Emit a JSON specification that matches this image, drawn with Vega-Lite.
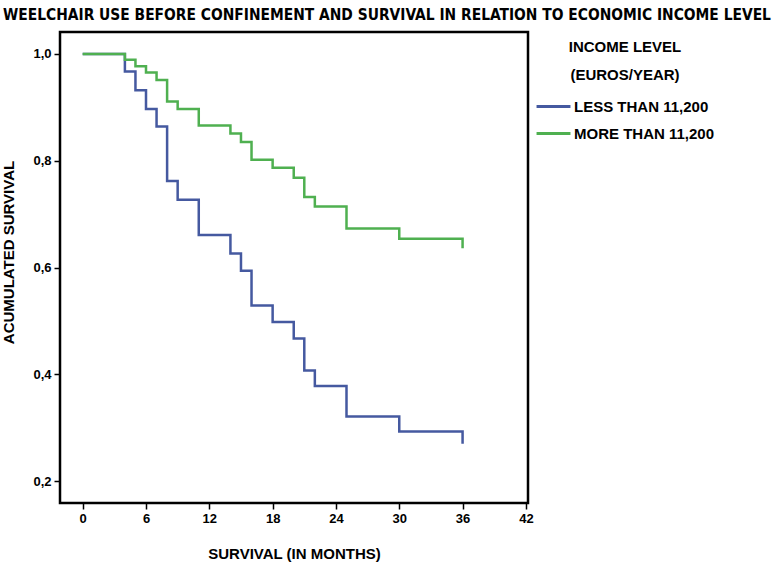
{
  "$schema": "https://vega.github.io/schema/vega-lite/v6.json",
  "autosize": "none",
  "padding": {"left": 60, "top": 32, "right": 246, "bottom": 59},
  "width": 468,
  "height": 471,
  "title": {
    "text": "WEELCHAIR USE BEFORE CONFINEMENT AND SURVIVAL IN RELATION TO ECONOMIC INCOME LEVEL",
    "font": "Liberation Sans Narrow, DejaVu Sans Condensed, sans-serif",
    "fontSize": 15.4,
    "fontWeight": "bold",
    "color": "black",
    "anchor": "start",
    "frame": "group",
    "dx": -57,
    "offset": 9
  },
  "data": {
    "values": [
      {"group": "LESS THAN 11,200", "month": 0, "survival": 1.0},
      {"group": "LESS THAN 11,200", "month": 4, "survival": 0.967},
      {"group": "LESS THAN 11,200", "month": 5, "survival": 0.932},
      {"group": "LESS THAN 11,200", "month": 6, "survival": 0.897},
      {"group": "LESS THAN 11,200", "month": 7, "survival": 0.864},
      {"group": "LESS THAN 11,200", "month": 8, "survival": 0.762},
      {"group": "LESS THAN 11,200", "month": 9, "survival": 0.727},
      {"group": "LESS THAN 11,200", "month": 11, "survival": 0.661},
      {"group": "LESS THAN 11,200", "month": 14, "survival": 0.626},
      {"group": "LESS THAN 11,200", "month": 15, "survival": 0.594},
      {"group": "LESS THAN 11,200", "month": 16, "survival": 0.529},
      {"group": "LESS THAN 11,200", "month": 18, "survival": 0.498},
      {"group": "LESS THAN 11,200", "month": 20, "survival": 0.467},
      {"group": "LESS THAN 11,200", "month": 21, "survival": 0.407},
      {"group": "LESS THAN 11,200", "month": 22, "survival": 0.378},
      {"group": "LESS THAN 11,200", "month": 25, "survival": 0.321},
      {"group": "LESS THAN 11,200", "month": 30, "survival": 0.293},
      {"group": "LESS THAN 11,200", "month": 36, "survival": 0.27},
      {"group": "MORE THAN 11,200", "month": 0, "survival": 1.0},
      {"group": "MORE THAN 11,200", "month": 4, "survival": 0.989},
      {"group": "MORE THAN 11,200", "month": 5, "survival": 0.977},
      {"group": "MORE THAN 11,200", "month": 6, "survival": 0.965},
      {"group": "MORE THAN 11,200", "month": 7, "survival": 0.951},
      {"group": "MORE THAN 11,200", "month": 8, "survival": 0.911},
      {"group": "MORE THAN 11,200", "month": 9, "survival": 0.897},
      {"group": "MORE THAN 11,200", "month": 11, "survival": 0.866},
      {"group": "MORE THAN 11,200", "month": 14, "survival": 0.851},
      {"group": "MORE THAN 11,200", "month": 15, "survival": 0.835},
      {"group": "MORE THAN 11,200", "month": 16, "survival": 0.802},
      {"group": "MORE THAN 11,200", "month": 18, "survival": 0.787},
      {"group": "MORE THAN 11,200", "month": 20, "survival": 0.768},
      {"group": "MORE THAN 11,200", "month": 21, "survival": 0.732},
      {"group": "MORE THAN 11,200", "month": 22, "survival": 0.714},
      {"group": "MORE THAN 11,200", "month": 25, "survival": 0.673},
      {"group": "MORE THAN 11,200", "month": 30, "survival": 0.654},
      {"group": "MORE THAN 11,200", "month": 36, "survival": 0.636}
    ]
  },
  "mark": {"type": "line", "interpolate": "step-after", "strokeWidth": 2.5},
  "encoding": {
    "x": {
      "field": "month",
      "type": "quantitative",
      "scale": {"domain": [-2.15, 42.2], "nice": false, "zero": false},
      "axis": {
        "title": "SURVIVAL (IN MONTHS)",
        "values": [0, 6, 12, 18, 24, 30, 36, 42],
        "grid": false,
        "domain": false,
        "titlePadding": 21
      }
    },
    "y": {
      "field": "survival",
      "type": "quantitative",
      "scale": {"domain": [0.159, 1.041], "nice": false, "zero": false},
      "axis": {
        "title": "ACUMULATED SURVIVAL",
        "values": [0.2, 0.4, 0.6, 0.8, 1.0],
        "labelExpr": "replace(format(datum.value, '.1f'), '.', ',')",
        "grid": false,
        "domain": false,
        "titlePadding": 16,
        "titleY": 220
      }
    },
    "color": {
      "field": "group",
      "type": "nominal",
      "scale": {
        "domain": ["LESS THAN 11,200", "MORE THAN 11,200"],
        "range": ["#4559a0", "#4fb050"]
      },
      "legend": {
        "title": ["INCOME LEVEL", "(EUROS/YEAR)"],
        "orient": "none",
        "legendX": 475,
        "legendY": 8,
        "titleAnchor": "middle",
        "titleAlign": "center",
        "titleLineHeight": 28,
        "titleFontSize": 15,
        "titlePadding": 5,
        "labelFontSize": 15,
        "symbolType": "stroke",
        "symbolSize": 1150,
        "symbolStrokeWidth": 3,
        "rowPadding": -8,
        "labelOffset": 2
      }
    }
  },
  "config": {
    "font": "Liberation Sans",
    "view": {"stroke": "black", "strokeWidth": 2.5},
    "axis": {
      "labelFont": "Liberation Sans",
      "labelFontWeight": "bold",
      "labelFontSize": 13,
      "labelColor": "black",
      "titleFont": "Liberation Sans",
      "titleFontWeight": "bold",
      "titleFontSize": 15,
      "titleColor": "black",
      "tickColor": "black",
      "tickWidth": 1.5,
      "tickSize": 6,
      "labelPadding": 3
    },
    "legend": {
      "labelFont": "Liberation Sans",
      "labelFontWeight": "bold",
      "labelColor": "black",
      "titleFont": "Liberation Sans",
      "titleFontWeight": "bold",
      "titleColor": "black"
    }
  }
}
